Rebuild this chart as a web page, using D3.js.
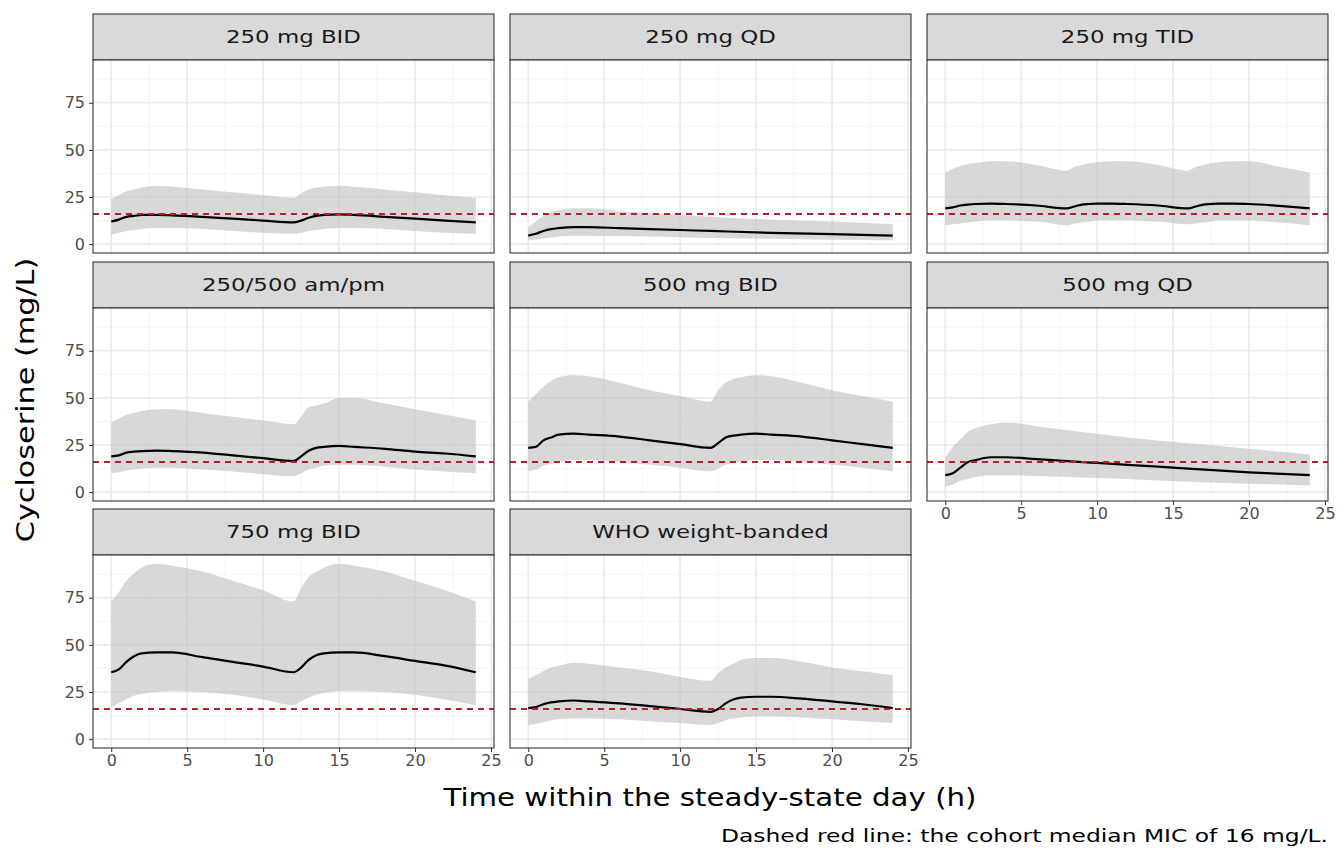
<!DOCTYPE html>
<html><head><meta charset="utf-8">
<script src="https://cdn.jsdelivr.net/npm/d3@7"></script>
<style>body{margin:0;background:#fff}text{font-family:"DejaVu Sans",sans-serif}</style>
</head><body><svg id="c" width="1344" height="864"></svg>
<script>
const T_BID=[0,0.5,1,1.5,2,3,4,6,8,10,12,12.5,13,13.5,14,15,16,18,20,22,24];
const T_QD=[0,0.5,1,1.5,2,3,4,6,8,10,12,16,20,24];
const T_TID=[0,0.5,1,1.5,2,3,4,6,8,8.5,9,9.5,10,11,12,14,16,16.5,17,17.5,18,19,20,22,24];
const panelNames=["250 mg BID","250 mg QD","250 mg TID","250/500 am/pm","500 mg BID","500 mg QD","750 mg BID","WHO weight-banded"];
const panelTimes=[T_BID,T_QD,T_TID,T_BID,T_BID,T_QD,T_BID,T_BID];
const medians=[
[12,13,14.5,15,15.5,15.5,15.3,14.5,13.5,12.5,11.5,12.5,14,15,15.5,15.8,15.5,14.5,13.5,12.5,11.5],
[4.5,5.5,7,8,8.5,9,9,8.5,8,7.5,7,6,5.3,4.5],
[19,19.5,20.5,21,21.3,21.5,21.3,20.5,19,20,21,21.3,21.5,21.5,21.3,20.5,19,20,21,21.3,21.5,21.5,21.3,20.3,19],
[19,19.5,21,21.5,21.8,22,21.8,21,19.5,18,16.5,19,22,23.5,24,24.5,24,23,21.5,20.5,19],
[23.5,24,27.5,29,30.5,31,30.5,29.5,27.5,25.5,23.5,26,29,30,30.5,31,30.5,29.5,27.5,25.5,23.5],
[9,10,13,16,17,18.5,18.5,17.5,16.5,15.5,14.5,12.5,10.5,9],
[35.5,37,41,44,45.5,46,46,43.5,41,38.5,35.5,38,42,44.5,45.5,46,46,44,41.5,39,35.5],
[16.5,17,18.5,19.5,20,20.5,20,19,17.5,16,14.5,16,19,21,22,22.5,22.5,21.5,20,18.5,16.5]];
const lowers=[
[5,6,7,7.5,8,8.5,8.5,8,7,6,5.5,6,7,7.5,8,8.5,8.5,8,7,6,5.5],
[2,2.5,3,3.5,4,4.5,4.5,4.3,4,3.7,3.3,2.8,2.3,2],
[10,10.5,11,11.5,12,12.5,12.5,12,10,11,11.5,12,12.5,12.5,12.5,12,10.5,11,11.5,12,12.5,12.5,12.5,11.5,10],
[10,10.5,11.5,12,12.5,13,13,12,11,9.5,8.5,10,12,13,14,14.5,14.5,13.5,12,11,10],
[11,12,14,15,16,17,17,16,14.5,13,11,12.5,14.5,15.5,16,17,17,16,14.5,13,11],
[3,4,6,7,8,9,9,8.5,8,7.5,7,5.5,4.5,3.5],
[17,19,21,23,24,25,25.5,25,23.5,21,18,20,22,23.5,24.5,25.5,25.5,25,23.5,21,18],
[7.5,8,9,10,10.5,11,11,10.5,9.5,8.5,7.5,8.5,10,11,11.5,12,12,11.5,10.5,9.5,8.5]];
const uppers=[
[24,26,28,29,30,31,30.5,29,27.5,26,24.5,27,29,30,30.5,31,30.5,29,27.5,26,24.5],
[9,12,15,17,18,19,19,17.5,16.5,15.5,14.5,13,12,10.5],
[38,40,41.5,42.5,43,44,44,42,39,41,42,43,43.5,44,44,42,39,41,42,43,43.5,44,44,41,38],
[37,39,41,42,43,44,44,42,40,38,36,40,45,46,47,50,50,47,44,41,38],
[48,52,56,59,61,62,61.5,58,54,51,48,54,58,60,61,62,61.5,58,54,51,48],
[18,24,28,32,34,36,37,35,33,31,29,26,23,20],
[73,78,84,88,91,93,92,89,84,79,73,80,86,89,91,93,92,89,84,79,73],
[32,34,36,38,39,40.5,40,38,36,33,31,35,38,40,42,43,43,41,38,36,34]];
const MIC=16;
const xTicks=[0,5,10,15,20,25], yTicks=[0,25,50,75];
const xMinor=[2.5,7.5,12.5,17.5,22.5], yMinor=[12.5,37.5,62.5,87.5];

const svg=d3.select("#c");
const colX=[93,510,927], pw=401, rowStrip=[14,262,509], sh=46, ph=193;
const x=d3.scaleLinear().domain([-1.2,25.2]).range([0,pw]);
const y=d3.scaleLinear().domain([-4.7,97.7]).range([ph,0]);
function stretch(sel,f){sel.each(function(){const w=this.getComputedTextLength();d3.select(this).attr("textLength",w*f).attr("lengthAdjust","spacingAndGlyphs");});}
panelNames.forEach((name,i)=>{
  const c=i%3,r=Math.floor(i/3);
  const g=svg.append("g").attr("transform",`translate(${colX[c]},${rowStrip[r]})`);
  g.append("rect").attr("width",pw).attr("height",sh).attr("fill","#D9D9D9").attr("stroke","#333").attr("stroke-width",1.1);
  stretch(g.append("text").attr("x",pw/2).attr("y",sh/2+6).attr("text-anchor","middle").attr("font-size",18).attr("fill","#1A1A1A").text(name),1.27);
  const p=g.append("g").attr("transform",`translate(0,${sh})`);
  p.append("rect").attr("width",pw).attr("height",ph).attr("fill","#fff");
  xMinor.forEach(v=>p.append("line").attr("x1",x(v)).attr("x2",x(v)).attr("y2",ph).attr("stroke","#F2F2F2").attr("stroke-width",0.8));
  yMinor.forEach(v=>p.append("line").attr("y1",y(v)).attr("y2",y(v)).attr("x2",pw).attr("stroke","#F2F2F2").attr("stroke-width",0.8));
  xTicks.forEach(v=>p.append("line").attr("x1",x(v)).attr("x2",x(v)).attr("y2",ph).attr("stroke","#EBEBEB").attr("stroke-width",1.6));
  yTicks.forEach(v=>p.append("line").attr("y1",y(v)).attr("y2",y(v)).attr("x2",pw).attr("stroke","#EBEBEB").attr("stroke-width",1.6));
  const T=panelTimes[i];
  const data=T.map((t,k)=>({t,m:medians[i][k],lo:lowers[i][k],hi:uppers[i][k]}));
  p.append("path").datum(data).attr("fill","#BEBEBE").attr("fill-opacity",0.6)
    .attr("d",d3.area().x(d=>x(d.t)).y0(d=>y(d.lo)).y1(d=>y(d.hi)).curve(d3.curveMonotoneX));
  p.append("path").datum(data).attr("fill","none").attr("stroke","#000").attr("stroke-width",2.2)
    .attr("d",d3.line().x(d=>x(d.t)).y(d=>y(d.m)).curve(d3.curveMonotoneX));
  p.append("line").attr("x2",pw).attr("y1",y(MIC)).attr("y2",y(MIC)).attr("stroke","#B22222").attr("stroke-width",2).attr("stroke-dasharray","6,5");
  p.append("rect").attr("width",pw).attr("height",ph).attr("fill","none").attr("stroke","#333").attr("stroke-width",1.1);
  if(c===0){
    const ya=p.append("g").call(d3.axisLeft(y).tickValues(yTicks).tickSize(4).tickPadding(4));
    ya.select(".domain").remove();
    ya.selectAll("line").attr("stroke","#333");
    ya.selectAll("text").attr("font-size",16).attr("fill","#4D4D4D").style("font-family","DejaVu Sans");
  }
  if(r===2||(r===1&&c===2)){
    const xa=p.append("g").attr("transform",`translate(0,${ph})`).call(d3.axisBottom(x).tickValues(xTicks).tickSize(4).tickPadding(3));
    xa.select(".domain").remove();
    xa.selectAll("line").attr("stroke","#333");
    xa.selectAll("text").attr("font-size",16).attr("fill","#4D4D4D").style("font-family","DejaVu Sans");
  }
});
stretch(svg.append("text").attr("transform","translate(34,400) rotate(-90)").attr("text-anchor","middle").attr("font-size",24).text("Cycloserine (mg/L)"),1.26);
stretch(svg.append("text").attr("x",710).attr("y",806).attr("text-anchor","middle").attr("font-size",24).text("Time within the steady-state day (h)"),1.22);
stretch(svg.append("text").attr("x",1328).attr("y",842).attr("text-anchor","end").attr("font-size",18).text("Dashed red line: the cohort median MIC of 16 mg/L."),1.3);
</script></body></html>
